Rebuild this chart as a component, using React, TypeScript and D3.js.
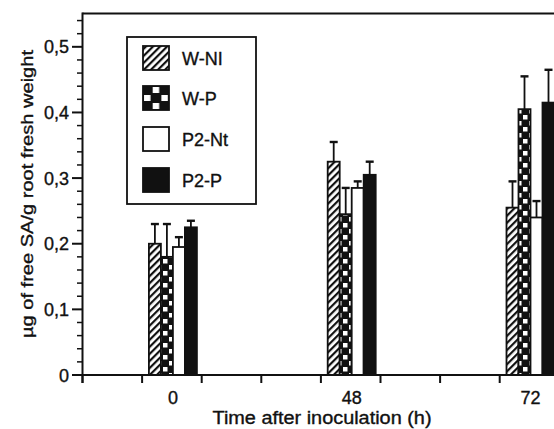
import React from "react";
import * as d3 from "d3";

// values (µg free SA / g root fresh weight)
const times = ["0", "48", "72"];
const series = ["W-NI", "W-P", "P2-Nt", "P2-P"];
const legendLabels = ["W-NI", "W-P", "P2-Nt", "P2-P"];
const meanWNI = [0.2, 0.325, 0.255];
const seWNI = [0.03, 0.03, 0.04];
const meanWP = [0.18, 0.245, 0.405];
const seWP = [0.05, 0.04, 0.05];
const meanP2Nt = [0.195, 0.285, 0.24];
const seP2Nt = [0.015, 0.01, 0.025];
const meanP2P = [0.225, 0.305, 0.415];
const seP2P = [0.01, 0.02, 0.05];
const yTicks = [0, 0.1, 0.2, 0.3, 0.4, 0.5];
const groupSlots = [1.5, 4.5, 7.5]; // category slots on the x axis
const xTickSlots = [0, 1, 2, 3, 4, 5, 6, 7, 8];

const W = 554;
const H = 429;
const font = "'Liberation Sans', Arial, Helvetica, sans-serif";

const fills = ["url(#hatch)", "url(#checker)", "#fff", "#111"];
const legendFills = ["url(#hatch)", "url(#checkerLeg)", "#fff", "#111"];

export default function App() {
  const means = [meanWNI, meanWP, meanP2Nt, meanP2P];
  const ses = [seWNI, seWP, seP2Nt, seP2P];

  const y = d3.scaleLinear().domain([0, 0.55]).range([375, 14]);
  const x = d3.scaleLinear().domain([0, 9]).range([82.5, 82.5 + 9 * 59.6]);
  const slot = d3.scaleOrdinal<string, number>().domain(times).range(groupSlots);
  const inner = d3.scaleBand().domain(series).range([-23, 25]);

  const minor = d3.range(0, 0.55, 0.02).filter(v => Math.abs(v * 10 - Math.round(v * 10)) > 0.01);
  const fmt = (v: number) => (v === 0 ? "0" : d3.format(".1f")(v).replace(".", ","));

  const bars: any[] = [];
  series.forEach((s, si) => {
    times.forEach((t, ti) => {
      bars.push({ si, ti, x: x(slot(t)) + (inner(s) as number), v: means[si][ti], e: ses[si][ti] });
    });
  });
  const bw = inner.bandwidth();

  const legX = 143;
  const legY = [46, 86, 127, 168];
  const txt = { fontFamily: font, fill: "#111", stroke: "#111", strokeWidth: 0.35 };

  return (
    <svg width={W} height={H} style={{ position: "absolute", left: 0, top: 0, background: "#fff" }}>
      <defs>
        <pattern id="hatch" width={5} height={5} patternUnits="userSpaceOnUse" patternTransform="rotate(45)">
          <rect width={5} height={5} fill="#fff" />
          <line x1={1} y1={0} x2={1} y2={5} stroke="#111" strokeWidth={2.4} />
        </pattern>
        <pattern id="checker" width={12} height={12} patternUnits="userSpaceOnUse">
          <rect width={12} height={12} fill="#111" />
          <rect x={1} y={1} width={4.5} height={4.5} fill="#fff" />
          <rect x={7} y={7} width={4.5} height={4.5} fill="#fff" />
        </pattern>
        <pattern id="checkerLeg" x={legX} y={legY[1]} width={17.4} height={16} patternUnits="userSpaceOnUse">
          <rect width={17.4} height={16} fill="#111" />
          <rect x={9.7} y={1} width={6.5} height={6} fill="#fff" />
          <rect x={1} y={9} width={6.5} height={6} fill="#fff" />
        </pattern>
      </defs>

      {/* frame top */}
      <line x1={82.5} y1={13.5} x2={W} y2={13.5} stroke="#111" strokeWidth={2} />

      {/* bars */}
      {bars.map((b, i) => (
        <rect key={"b" + i} x={b.x} y={y(b.v)} width={bw} height={y(0) - y(b.v)}
          fill={fills[b.si]} stroke="#111" strokeWidth={1.8} />
      ))}
      {/* error bars */}
      {bars.map((b, i) => (
        <g key={"e" + i} stroke="#111">
          <line x1={b.x + bw / 2} x2={b.x + bw / 2} y1={y(b.v)} y2={y(b.v + b.e)} strokeWidth={1.8} />
          <line x1={b.x + bw / 2 - 4} x2={b.x + bw / 2 + 4} y1={y(b.v + b.e)} y2={y(b.v + b.e)} strokeWidth={2.4} />
        </g>
      ))}

      {/* x axis */}
      <line x1={82.5} x2={W} y1={375} y2={375} stroke="#111" strokeWidth={2} />
      {xTickSlots.map(t => (
        <line key={"xt" + t} x1={x(t)} x2={x(t)} y1={375} y2={383} stroke="#111" strokeWidth={2} />
      ))}
      {times.map(t => (
        <text key={"xl" + t} x={x(slot(t)) + 1} y={403.5} textAnchor="middle" fontSize={18} {...txt}>
          {t}
        </text>
      ))}
      <text x={322} y={423.5} textAnchor="middle" fontSize={17.5} {...txt}
        textLength={219} lengthAdjust="spacingAndGlyphs">
        Time after inoculation (h)
      </text>

      {/* y axis */}
      <line x1={82.5} x2={82.5} y1={12.5} y2={383} stroke="#111" strokeWidth={2} />
      {yTicks.map(t => (
        <g key={"yt" + t}>
          <line x1={72} x2={82.5} y1={y(t)} y2={y(t)} stroke="#111" strokeWidth={2} />
          <text x={69} y={y(t) + 6.5} textAnchor="end" fontSize={18} {...txt}>
            {fmt(t)}
          </text>
        </g>
      ))}
      {minor.map((t, i) => (
        <line key={"ym" + i} x1={77} x2={82.5} y1={y(t)} y2={y(t)} stroke="#111" strokeWidth={1.5} />
      ))}
      <text transform="translate(33,194) rotate(-90)" textAnchor="middle" fontSize={17} {...txt}
        textLength={288} lengthAdjust="spacingAndGlyphs">
        µg of free SA/g root fresh weight
      </text>

      {/* legend */}
      <rect x={127} y={37} width={129} height={167} fill="#fff" stroke="#111" strokeWidth={1.8} />
      {legendLabels.map((l, i) => (
        <g key={"lg" + i}>
          <rect x={legX} y={legY[i]} width={26} height={24} fill={legendFills[i]} stroke="#111" strokeWidth={1.8} />
          <text x={182} y={legY[i] + 18.5} fontSize={18} {...txt}>
            {l}
          </text>
        </g>
      ))}
    </svg>
  );
}
